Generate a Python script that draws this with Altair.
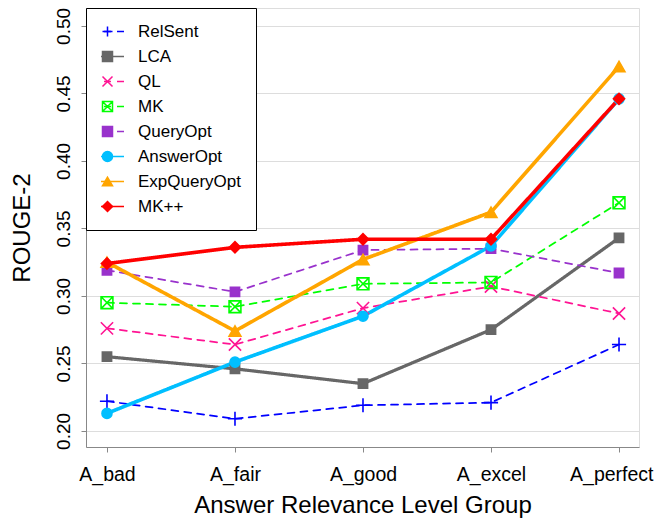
import altair as alt
import pandas as pd

# ---------------- data ----------------
groups = ["A_bad", "A_fair", "A_good", "A_excel", "A_perfect"]
series = ["RelSent", "LCA", "QL", "MK", "QueryOpt", "AnswerOpt", "ExpQueryOpt", "MK++"]

relsent = [0.222, 0.209, 0.219, 0.221, 0.264]
lca = [0.255, 0.246, 0.235, 0.275, 0.343]
ql = [0.276, 0.264, 0.291, 0.307, 0.287]
mk = [0.295, 0.292, 0.309, 0.310, 0.369]
queryopt = [0.319, 0.303, 0.334, 0.335, 0.317]
answeropt = [0.213, 0.251, 0.285, 0.337, 0.446]
expqueryopt = [0.325, 0.274, 0.327, 0.362, 0.470]
mkpp = [0.324, 0.336, 0.342, 0.342, 0.446]

y_ticks = [0.20, 0.25, 0.30, 0.35, 0.40, 0.45, 0.50]

# ---------------- styles ----------------
FONT = "Liberation Sans"
colors = ["#0000FF", "#676767", "#FF1493", "#00FF00", "#9932CC", "#00BFFF", "#FFA500", "#FF0000"]
dashes = [[7, 6], [1, 0], [7, 6], [7, 6], [7, 6], [1, 0], [1, 0], [1, 0]]
line_widths = [1.75, 3.2, 1.75, 1.75, 1.75, 3.6, 3.6, 3.6]
fills = ["transparent", "#676767", "transparent", "transparent", "#9932CC", "#00BFFF", "#FFA500", "#FF0000"]
shapes = [
    "M-1,0L1,0M0,-1L0,1",
    "square",
    "M-1,-1L1,1M-1,1L1,-1",
    "M-1,-1L1,-1L1,1L-1,1ZM-1,-1L1,1M-1,1L1,-1",
    "square",
    "circle",
    "triangle-up",
    "diamond",
]
marker_sizes = [200, 85, 150, 140, 85, 100, 140, 125]

rows = []
for s, vals in zip(series, [relsent, lca, ql, mk, queryopt, answeropt, expqueryopt, mkpp]):
    for g, v in zip(groups, vals):
        rows.append({"group": g, "series": s, "value": v})
df = pd.DataFrame(rows)

names_js = "[" + ",".join("'" + s + "'" for s in series) + "]"
idx_expr = "indexof(" + names_js + ", datum.series)"
lw_expr = "[" + ",".join(str(w) for w in line_widths) + "][" + idx_expr + "]"
sz_expr = "[" + ",".join(str(w) for w in marker_sizes) + "][" + idx_expr + "]"

x_enc = alt.X(
    "group:N",
    sort=groups,
    scale=alt.Scale(type="point", domain=groups, padding=0.16, align=0.512),
    axis=alt.Axis(
        title="Answer Relevance Level Group",
        labelAngle=0,
        labelFontSize=19.5,
        labelPadding=13,
        labelFlush=20.5,
        labelFlushOffset=34,
        titleFontSize=24,
        titleFontWeight="normal",
        titlePadding=10,
    ),
)
y_enc = alt.Y(
    "value:Q",
    scale=alt.Scale(domain=[0.1881, 0.5133], nice=False, zero=False),
    axis=alt.Axis(
        title="ROUGE-2",
        values=y_ticks,
        format=".2f",
        labelAngle=270,
        labelAlign="center",
        labelBaseline="alphabetic",
        labelFontSize=19,
        labelPadding=12,
        titleFontSize=24,
        titleFontWeight="normal",
        titlePadding=20,
    ),
)

common_leg = dict(
    title=None,
    orient="none",
    legendX=0,
    legendY=0,
    padding=15,
    rowPadding=7,
    clipHeight=17,
    labelFontSize=17,
    labelFont=FONT,
    labelLimit=400,
)
line_leg = alt.Legend(
    **common_leg,
    symbolType="stroke",
    symbolSize=1089,
    symbolStrokeWidth=1.5,
    symbolOffset=-11,
    labelOffset=13,
    labelColor="black",
    strokeColor="black",
    fillColor="white",
)
pt_leg = alt.Legend(
    **common_leg,
    symbolSize=100,
    symbolStrokeWidth=1.5,
    symbolOffset=-2,
    labelOffset=0,
    labelExpr="' '",
)

lines = (
    alt.Chart(df)
    .transform_calculate(lw=lw_expr)
    .mark_line(strokeCap="round", strokeJoin="round")
    .encode(
        x=x_enc,
        y=y_enc,
        color=alt.Color("series:N", scale=alt.Scale(domain=series, range=colors), legend=line_leg),
        strokeDash=alt.StrokeDash("series:N", scale=alt.Scale(domain=series, range=dashes), legend=line_leg),
        strokeWidth=alt.StrokeWidth("lw:Q", scale=None, legend=None),
    )
)

ord_sort = alt.EncodingSortField(field="ord", op="min")
points = (
    alt.Chart(df)
    .transform_calculate(sz=sz_expr, ord=idx_expr)
    .mark_point(opacity=1, strokeWidth=1.6)
    .encode(
        x=x_enc,
        y=y_enc,
        fill=alt.Fill("series:N", sort=ord_sort, scale=alt.Scale(range=fills), legend=pt_leg),
        stroke=alt.Stroke("series:N", sort=ord_sort, scale=alt.Scale(range=colors), legend=pt_leg),
        shape=alt.Shape("series:N", sort=ord_sort, scale=alt.Scale(range=shapes), legend=pt_leg),
        size=alt.Size("sz:Q", scale=None, legend=None),
    )
)

chart = (
    alt.layer(lines, points)
    .properties(
        width=553,
        height=439,
        autosize=alt.AutoSizeParams(type="none"),
        padding={"left": 78, "top": 0, "right": 15, "bottom": 71},
    )
    .configure_view(stroke="black", strokeWidth=1)
    .configure_axis(
        domain=False,
        grid=False,
        ticks=True,
        tickColor="black",
        tickSize=9,
        tickWidth=1,
        labelColor="black",
        titleColor="black",
        labelFont=FONT,
        titleFont=FONT,
        titleFontWeight="normal",
    )
    .configure(background="white")
)

chart.save("out.html", embed_options={"renderer": "svg", "actions": False})
